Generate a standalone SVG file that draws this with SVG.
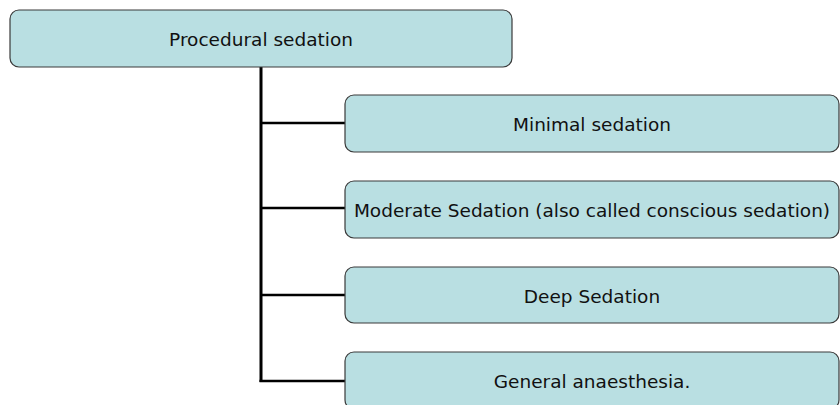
<svg xmlns="http://www.w3.org/2000/svg" width="840" height="405" viewBox="0 0 840 405">
<style>
.box{fill:#b9dfe2;stroke:#3a3a3a;stroke-width:1.2}
.lbl{font-family:"DejaVu Sans",sans-serif;font-size:18.5px;fill:#111;text-anchor:middle}
.conn{stroke:#000;fill:none}
</style>
<rect width="840" height="405" fill="#fff"/>
<g id="connectors">
<line class="conn" x1="261" y1="67" x2="261" y2="382" stroke-width="3"/>
<polyline class="conn" points="261,123 345,123" stroke-width="2.5"/>
<polyline class="conn" points="261,208 345,208" stroke-width="2.5"/>
<polyline class="conn" points="261,295 345,295" stroke-width="2.5"/>
<polyline class="conn" points="259.5,381 345,381" stroke-width="2.5"/>
</g>
<g id="root">
<rect class="box" x="10" y="10" width="502" height="57" rx="9"/>
<text class="lbl" x="261" y="46">Procedural sedation</text>
</g>
<g id="minimal">
<rect class="box" x="345" y="95" width="494" height="57" rx="9"/>
<text class="lbl" x="592" y="131">Minimal sedation</text>
</g>
<g id="moderate">
<rect class="box" x="345" y="181" width="494" height="57" rx="9"/>
<text class="lbl" x="592" y="217">Moderate Sedation (also called conscious sedation)</text>
</g>
<g id="deep">
<rect class="box" x="345" y="267" width="494" height="56" rx="9"/>
<text class="lbl" x="592" y="303">Deep Sedation</text>
</g>
<g id="general">
<rect class="box" x="345" y="352" width="494" height="57" rx="9"/>
<text class="lbl" x="592" y="388">General anaesthesia.</text>
</g>
</svg>
